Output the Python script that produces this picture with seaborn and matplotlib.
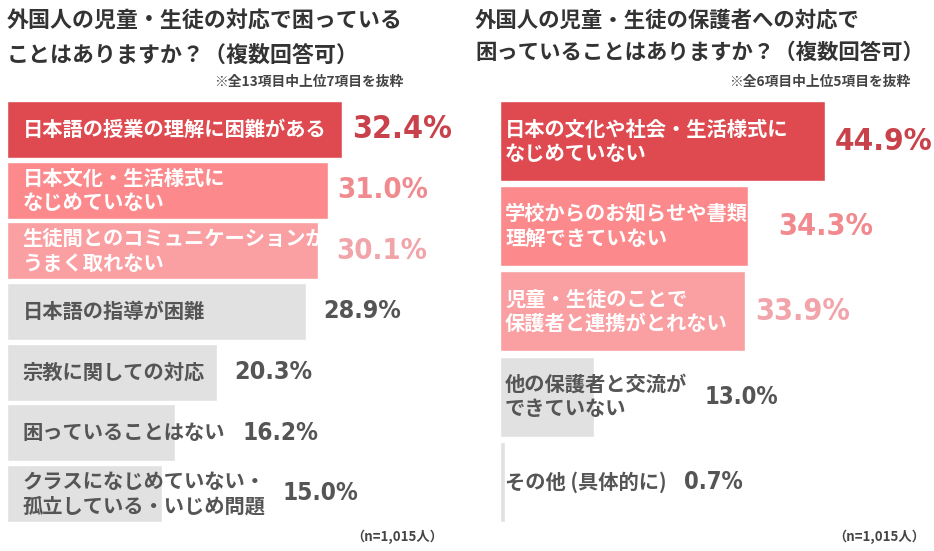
import matplotlib
matplotlib.use("Agg")
import matplotlib.pyplot as plt
import seaborn as sns

# left panel data
left_items = [
    "日本語の授業の理解に困難がある",
    "日本文化・生活様式に\nなじめていない",
    "生徒間とのコミュニケーションが\nうまく取れない",
    "日本語の指導が困難",
    "宗教に関しての対応",
    "困っていることはない",
    "クラスになじめていない・\n孤立している・いじめ問題",
]
left_values = [32.4, 31.0, 30.1, 28.9, 20.3, 16.2, 15.0]

# right panel data
right_items = [
    "日本の文化や社会・生活様式に\nなじめていない",
    "学校からのお知らせや書類が\n理解できていない",
    "児童・生徒のことで\n保護者と連携がとれない",
    "他の保護者と交流が\nできていない",
    "その他 (具体的に)",
]
right_values = [44.9, 34.3, 33.9, 13.0, 0.7]

left_title = "外国人の児童・生徒の対応で困っている\nことはありますか？（複数回答可）"
right_title = "外国人の児童・生徒の保護者への対応で\n困っていることはありますか？（複数回答可）"
left_note = "※全13項目中上位7項目を抜粋"
right_note = "※全6項目中上位5項目を抜粋"
n_note = "（n=1,015人）"

# styles
RED, PINK, LPINK, GREY = "#de4a50", "#fc8a8c", "#fa9fa2", "#e1e1e1"
left_bar_colors = [RED, PINK, LPINK, GREY, GREY, GREY, GREY]
right_bar_colors = [RED, PINK, LPINK, GREY, GREY]
left_val_colors = ["#c9414a", "#f08a8e", "#f2a4ab", "#555555", "#555555", "#555555", "#555555"]
right_val_colors = ["#c9414a", "#f08a8e", "#f2a4ab", "#555555", "#555555"]
left_val_sizes = [23, 21, 21, 18, 18, 17.5, 17.5]
right_val_sizes = [22.5, 22, 22, 17, 17]

sns.set_style("white")
JP = ["Noto Sans CJK JP", "DejaVu Sans"]
plt.rcParams["font.family"] = JP

W, H = 934, 551
fig = plt.figure(figsize=(W / 100, H / 100), dpi=100)
fig.patch.set_facecolor("white")

ax_l = fig.add_axes([7 / W, 0.0494, 463 / W, 0.7706])
ax_r = fig.add_axes([500 / W, 0.0483, 434 / W, 0.7731])


def draw_panel(ax, items, values, bar_colors, xmax, text_pad):
    sns.barplot(x=values, y=items, hue=items, palette=bar_colors, orient="h",
                width=0.94, saturation=1, legend=False, ax=ax)
    ax.set_xlim(0, xmax)
    ax.set_ylim(len(items) - 0.5, -0.5)
    ax.axis("off")
    texts = []
    for i, (lab, col) in enumerate(zip(items, bar_colors)):
        tc = "#555555" if col == GREY else "white"
        t = ax.text(text_pad, i, lab, ha="left", va="center", fontsize=14.6,
                    fontweight="bold", color=tc, linespacing=1.2, family=JP)
        texts.append(t)
    return texts


tl = draw_panel(ax_l, left_items, left_values, left_bar_colors, 463 / 10.34, 1.5)
tr = draw_panel(ax_r, right_items, right_values, right_bar_colors, 434 / 7.24, 0.7)

fig.canvas.draw()
renderer = fig.canvas.get_renderer()


def add_values(ax, texts, values, colors, sizes, bar_colors):
    for i, (t, v, c, s, bc) in enumerate(zip(texts, values, colors, sizes, bar_colors)):
        text_end = t.get_window_extent(renderer).x1
        bar_end = ax.transData.transform((v, 0))[0]
        gap = 17 if bc == GREY else 10
        x_px = max(text_end, bar_end) + gap
        x = ax.transData.inverted().transform((x_px, 0))[0]
        ax.text(x, i, f"{v:.1f}%", ha="left", va="center", fontsize=s,
                fontweight="bold", fontstretch="condensed", color=c,
                family="DejaVu Sans", clip_on=False)


add_values(ax_l, tl, left_values, left_val_colors, left_val_sizes, left_bar_colors)
add_values(ax_r, tr, right_values, right_val_colors, right_val_sizes, right_bar_colors)

# titles and notes
fig.text(7 / W, 1 - 10 / H, left_title, ha="left", va="top", fontsize=15.8,
         fontweight="bold", color="#333333", linespacing=1.58)
fig.text(475 / W, 1 - 10 / H, right_title, ha="left", va="top", fontsize=15.4,
         fontweight="bold", color="#333333", linespacing=1.62)
fig.text(403 / W, 1 - 82 / H, left_note, ha="right", va="center", fontsize=9.9,
         fontweight="bold", color="#444444")
fig.text(910 / W, 1 - 82 / H, right_note, ha="right", va="center", fontsize=9.9,
         fontweight="bold", color="#444444")
fig.text(443 / W, 1 - 537 / H, n_note, ha="right", va="center", fontsize=9.5,
         fontweight="bold", color="#444444")
fig.text(925 / W, 1 - 537 / H, n_note, ha="right", va="center", fontsize=9.5,
         fontweight="bold", color="#444444")

fig.savefig("out.png", dpi=100, facecolor="white")
